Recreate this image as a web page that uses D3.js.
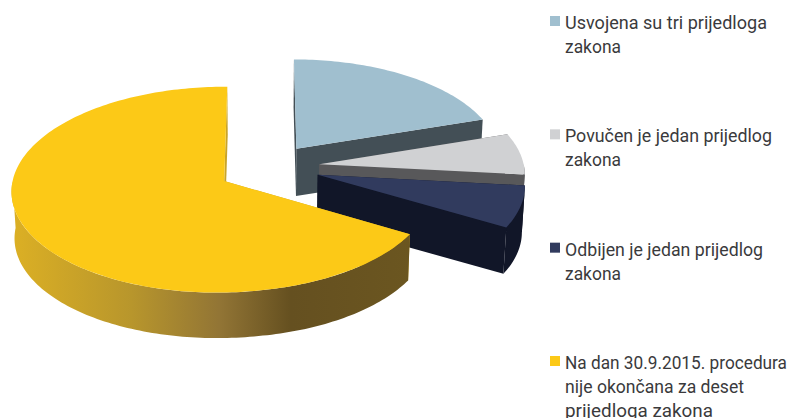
<!DOCTYPE html>
<html>
<head>
<meta charset="utf-8">
<script src="https://cdn.jsdelivr.net/npm/d3@7"></script>
<style>
    html,body {margin:0;padding:0;background:#fff;overflow:hidden}
    svg {display:block}
    .leyenda {font-family:Roboto,sans-serif;font-size:19px;fill:#3a3a3c}
</style>
</head>
<body>
<div id="zona_grafica"></div>
<script>
// Data
var categorias = [
    ["Usvojena su tri prijedloga","zakona"],
    ["Povučen je jedan prijedlog","zakona"],
    ["Odbijen je jedan prijedlog","zakona"],
    ["Na dan 30.9.2015. procedura","nije okončana za deset","prijedloga zakona"]
]
var valores = [3,1,1,10]

// Width of each legend line, the original font is narrower than Roboto
var anchos = [[202,56],[207,56],[198,56],[222,179,148]]

// Colours per slice
var colorTop = ["#a0bfcf","#d0d1d3","#313b5e","#fcc917"]
var colorCara = ["#434f56","#58585a","#111628","#c9a428"]
// How far each slice is pulled out, in plane units
var explodeU = [.16,.27,.26,-.192]
var explodeV = [-.215,-.057,.05,.111]

var width = 792, height = 418

var svg = d3.select("#zona_grafica")
    .append("svg")
    .attr("width",width)
    .attr("height",height)

// Fake 3D: plane coordinates (u to the right, v to the viewer) with a small perspective
var cx = 264.1, cy = 169.8, escalaU = 205.3, escalaV = 100
var persV = .083, persU = .015, grosor = 47, encoge = .988

function proyecta(u,v,abajo) {
    var p = 1/(1 - persV*v + persU*Math.min(u,0))
    var s = abajo ? encoge : 1
    return [cx + escalaU*u*p*s, cy + escalaV*v*p*s + (abajo ? grosor : 0)]
}

var arcos = d3.pie().sort(null).value(d=>d)(valores)

// Rim of a slice from angle a0 to angle a1
function borde(d,a0,a1,abajo) {
    var n = Math.max(2,Math.ceil(Math.abs(a1-a0)/.02))
    return d3.range(n+1).map(i=>{
        var a = a0 + (a1-a0)*i/n
        return proyecta(explodeU[d.index]+Math.sin(a),explodeV[d.index]-Math.cos(a),abajo)
    })
}

function vertice(d,abajo) {
    return proyecta(explodeU[d.index],explodeV[d.index],abajo)
}

function cara(d,a) {
    return [vertice(d,false)]
        .concat(borde(d,a,a,false).slice(0,1))
        .concat(borde(d,a,a,true).slice(0,1))
        .concat([vertice(d,true)])
}

var linea = d3.line().curve(d3.curveLinear)

// Gradient of the yellow wall
var escalaGrad = d3.scaleLinear().domain([0,1]).range([proyecta(-1.2,.1,false)[0],proyecta(.68,.6,false)[0]])
var grad = svg.append("defs").append("linearGradient")
    .attr("id","paredAmarilla")
    .attr("gradientUnits","userSpaceOnUse")
    .attr("x1",escalaGrad(0)).attr("x2",escalaGrad(1))
    .attr("y1",0).attr("y2",0)
grad.selectAll("stop")
    .data([[0,"#dcb024"],[.3,"#b8962c"],[.52,"#927535"],[.7,"#655020"],[1,"#6b5620"]])
    .enter().append("stop")
    .attr("offset",d=>d[0])
    .attr("stop-color",d=>d[1])

// Slices from back to front: blue, grey, navy, yellow
var porcion = svg.append("g").selectAll("g")
    .data(arcos).enter()
    .append("g")
    .attr("class","porcion")

// Cut faces
porcion.selectAll(".cara")
    .data(d=>[[d,d.startAngle],[d,d.endAngle]])
    .enter().append("path")
    .attr("class","cara")
    .attr("d",d=>linea(cara(d[0],d[1]))+"Z")
    .attr("fill",d=>colorCara[d[0].index])

// Outer wall, only the part that looks to the viewer
porcion.filter(d=>Math.min(d.endAngle,3*Math.PI/2) > Math.max(d.startAngle,Math.PI/2))
    .append("path")
    .attr("class","pared")
    .attr("d",d=>{
        var a0 = Math.max(d.startAngle,Math.PI/2), a1 = Math.min(d.endAngle,3*Math.PI/2)
        return linea(borde(d,a0,a1,false).concat(borde(d,a1,a0,true)))+"Z"
    })
    .attr("fill",d=>d.index==3 ? "url(#paredAmarilla)" : colorCara[d.index])

// Top
porcion.append("path")
    .attr("class","tapa")
    .attr("d",d=>linea([vertice(d,false)].concat(borde(d,d.startAngle,d.endAngle,false)))+"Z")
    .attr("fill",d=>colorTop[d.index])

// Legend
var escalaLeyenda = d3.scalePoint()
    .domain(d3.range(categorias.length))
    .range([16,356])

var itemLeyenda = svg.append("g").selectAll("g")
    .data(categorias).enter()
    .append("g")
    .attr("transform",(d,i)=>"translate(550,"+escalaLeyenda(i)+")")

itemLeyenda.append("rect")
    .attr("width",10)
    .attr("height",10)
    .attr("fill",(d,i)=>colorTop[i])

itemLeyenda.selectAll("text")
    .data((d,i)=>d.map((t,j)=>({t:t,ancho:anchos[i][j]}))).enter()
    .append("text")
    .attr("class","leyenda")
    .attr("x",15)
    .attr("y",(d,i)=>13+i*24)
    .attr("textLength",d=>d.ancho)
    .attr("lengthAdjust","spacingAndGlyphs")
    .text(d=>d.t)
</script>
</body>
</html>
